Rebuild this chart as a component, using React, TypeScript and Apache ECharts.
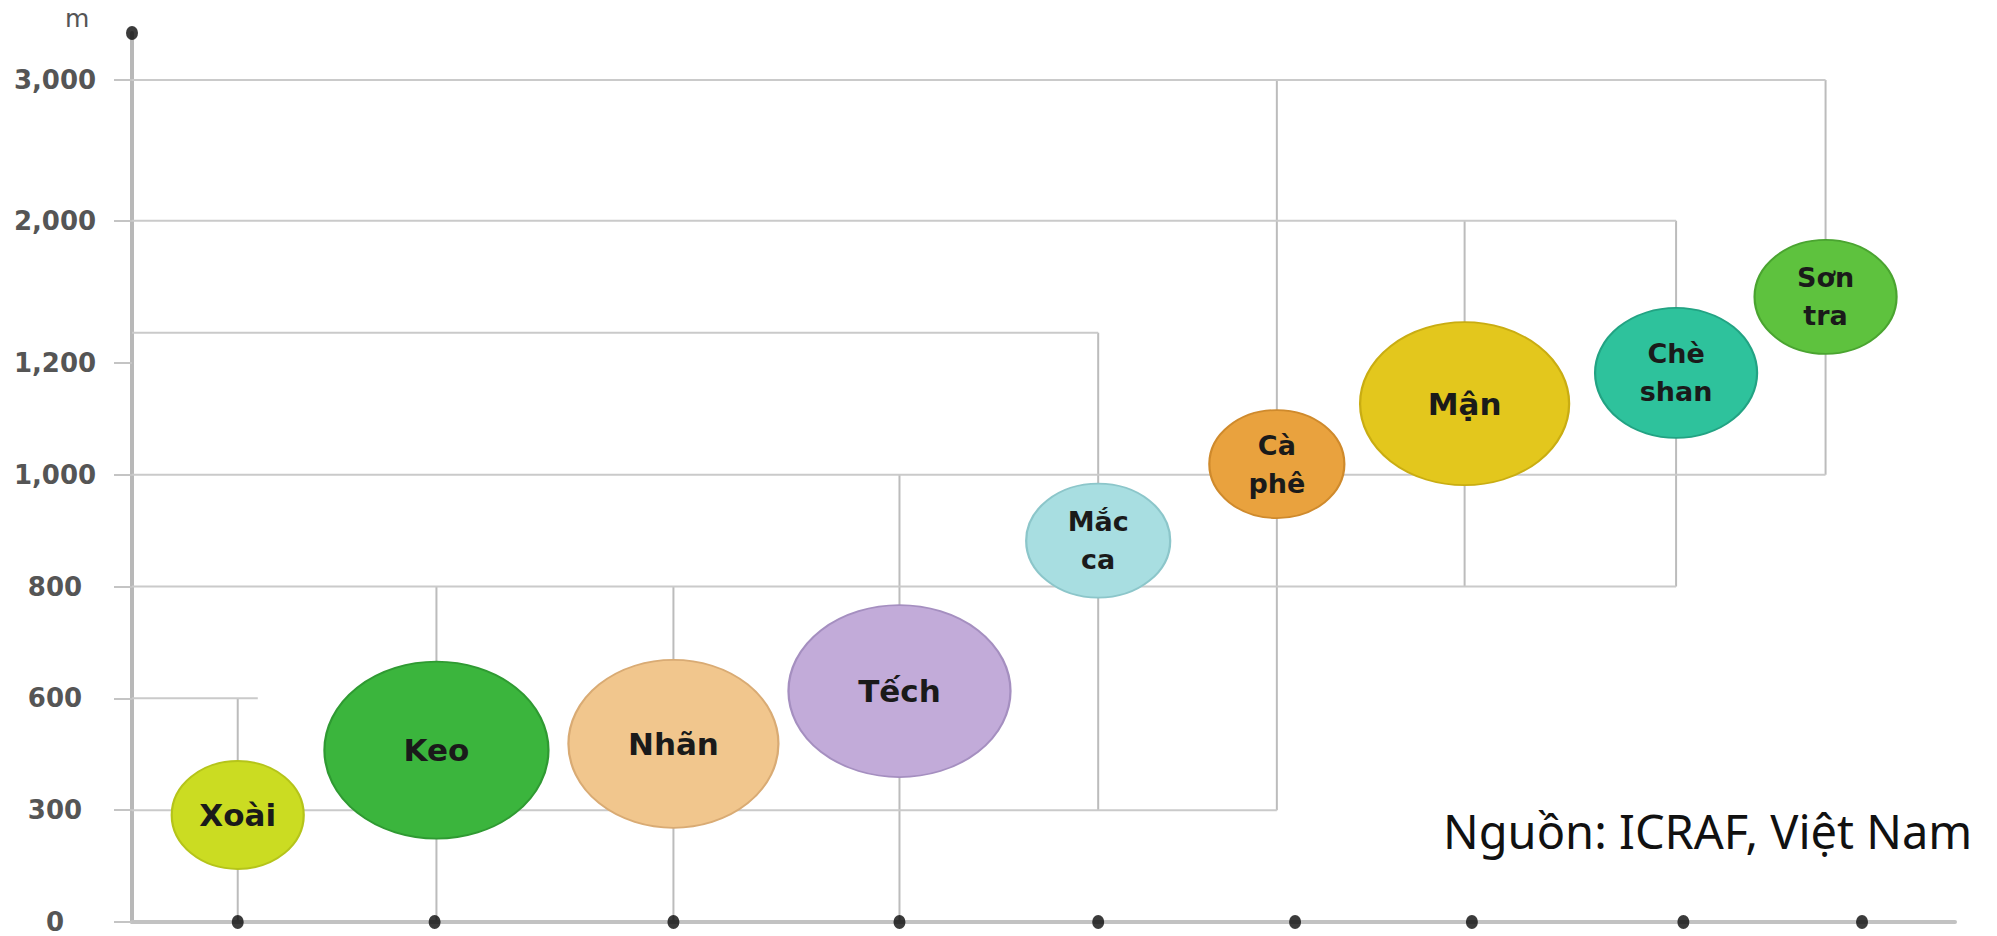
import React, { useEffect, useRef } from "react";
import * as echarts from "echarts";

// ---- data ----
const species = ["Xoài", "Keo", "Nhãn", "Tếch", "Mắc ca", "Cà phê", "Mận", "Chè shan", "Sơn tra"];
const bubbleLabels = ["Xoài", "Keo", "Nhãn", "Tếch", "Mắc\nca", "Cà\nphê", "Mận", "Chè\nshan", "Sơn\ntra"];
// horizontal position of each species column (0–100 along the x axis)
const columnX = [5.8, 16.7, 29.7, 42.1, 53.0, 62.8, 73.1, 84.7, 92.9];
// positions of the black dots on the x axis
const dotX = [5.8, 16.6, 29.7, 42.1, 53.0, 63.8, 73.5, 85.1, 94.9];
// altitude range (m) of each species
const minAlt = [0, 0, 0, 0, 300, 300, 800, 800, 1000];
const maxAlt = [600, 800, 800, 1000, 1370, 3000, 2000, 2000, 3000];
// altitude (m) of each bubble centre
const bubbleAlt = [287, 461, 478, 613, 882, 1019, 1127, 1182, 1572];
// bubble sizes [width, height] px
const bubbleW = [132, 224, 210, 222, 144, 135, 209, 162, 142];
const bubbleH = [108, 177, 168, 172, 114, 108, 163, 130, 114];
const bubbleColors = ["#cbdc22", "#3bb53d", "#f1c68d", "#c2abd9", "#a8dee1", "#e9a23e", "#e3c71d", "#2ec29c", "#5ec23e"];
const bubbleBorders = ["#b5c41a", "#2f9a32", "#d9ab74", "#a58fc0", "#8cc6ca", "#cf8a2c", "#c9ad12", "#22a383", "#4aa430"];

// horizontal bracket lines: altitude and x-extent
const hLineAlt = [600, 800, 1000, 1370, 2000, 3000, 300];
const hLineFrom = [0, 0, 0, 0, 0, 0, 0];
const hLineTo = [6.9, 84.7, 92.9, 53.0, 84.7, 92.9, 62.8];

// y axis ticks (non-linear scale)
const yTickValues = [0, 300, 600, 800, 1000, 1200, 2000, 3000];
const yTickLabels = ["0", "300", "600", "800", "1,000", "1,200", "2,000", "3,000"];
const yTickPos = [0, 1, 2, 3, 4, 5, 6.27, 7.53];
const yMax = 7.95;

function toPos(v: number): number {
  for (let i = 0; i < yTickValues.length - 1; i++) {
    const a = yTickValues[i];
    const b = yTickValues[i + 1];
    if (v <= b) {
      return yTickPos[i] + ((v - a) / (b - a)) * (yTickPos[i + 1] - yTickPos[i]);
    }
  }
  const n = yTickValues.length - 1;
  return yTickPos[n] + ((v - yTickValues[n]) / (yTickValues[n] - yTickValues[n - 1])) * (yTickPos[n] - yTickPos[n - 1]);
}

const ELLIPSE = "path://M0 50A50 50 0 1 1 100 50A50 50 0 1 1 0 50Z";

export default function App() {
  const ref = useRef<HTMLDivElement>(null);
  useEffect(() => {
    if (!ref.current) return;
    const chart = echarts.init(ref.current, undefined, { renderer: "svg" });

    const lineSeries: any[] = [];
    // vertical range lines
    species.forEach((s, i) => {
      lineSeries.push({
        type: "line",
        name: s + " range",
        data: [
          [columnX[i], toPos(minAlt[i])],
          [columnX[i], toPos(maxAlt[i])],
        ],
        symbol: "none",
        silent: true,
        z: 1,
        lineStyle: { color: "#bcbcbc", width: 2 },
      });
    });
    // horizontal lines
    hLineAlt.forEach((a, i) => {
      lineSeries.push({
        type: "line",
        data: [
          [hLineFrom[i], toPos(a)],
          [hLineTo[i], toPos(a)],
        ],
        symbol: "none",
        silent: true,
        z: 1,
        lineStyle: { color: "#cacaca", width: 2 },
      });
    });

    const option: any = {
      animation: false,
      backgroundColor: "#ffffff",
      grid: { left: 132, right: 42, top: 33, bottom: 14, containLabel: false, outerBoundsMode: "none" },
      xAxis: {
        type: "value",
        min: 0,
        max: 100,
        axisLine: { show: true, onZero: false, lineStyle: { color: "#c2c2c2", width: 4 } },
        axisTick: { show: false },
        axisLabel: { show: false },
        splitLine: { show: false },
      },
      yAxis: {
        type: "value",
        min: 0,
        max: yMax,
        axisLine: { show: true, onZero: false, lineStyle: { color: "#b8b8b8", width: 4 } },
        axisTick: { show: true, customValues: yTickPos, length: 18, lineStyle: { color: "#c4c4c4", width: 2 } },
        axisLabel: {
          show: true,
          customValues: yTickPos,
          margin: 77,
          align: "center",
          color: "#555555",
          fontFamily: "DejaVu Sans",
          fontWeight: "bold",
          fontSize: 26,
          formatter: (v: number) => {
            let best = 0;
            yTickPos.forEach((p, i) => {
              if (Math.abs(p - v) < Math.abs(yTickPos[best] - v)) best = i;
            });
            return yTickLabels[best];
          },
        },
        splitLine: { show: false },
      },
      graphic: [
        {
          type: "text",
          left: 65,
          top: 6,
          style: { text: "m", fontSize: 25, fontFamily: "DejaVu Sans", fill: "#555555" },
        },
        {
          type: "text",
          x: 1443,
          y: 831,
          style: {
            text: "Nguồn: ICRAF, Việt Nam",
            fontSize: 47,
            fontFamily: "Noto Sans",
            fill: "#111111",
            textAlign: "left",
            textVerticalAlign: "middle",
          },
        },
      ],
      series: [
        ...lineSeries,
        {
          type: "scatter",
          name: "bubbles",
          z: 3,
          data: species.map((s, i) => ({
            name: bubbleLabels[i],
            value: [columnX[i], toPos(bubbleAlt[i])],
            symbol: ELLIPSE,
            symbolSize: [bubbleW[i], bubbleH[i]],
            itemStyle: { color: bubbleColors[i], borderColor: bubbleBorders[i], borderWidth: 2, opacity: 1 },
            label: {
              show: true,
              position: "inside",
              formatter: "{b}",
              fontFamily: "DejaVu Sans",
              fontWeight: "bold",
              fontSize: bubbleLabels[i].includes("\n") ? 27 : 31,
              lineHeight: 38,
              color: "#1a1a1a",
            },
          })),
        },
        {
          type: "scatter",
          name: "dots",
          z: 4,
          symbol: ELLIPSE,
          symbolSize: [12, 14],
          itemStyle: { color: "#0a0a0a" },
          data: [...dotX.map((x) => [x, 0]), [0, yMax]],
        },
      ],
    };
    chart.setOption(option);
    return () => chart.dispose();
  }, []);
  return (
    <div
      ref={ref}
      style={{ position: "fixed", left: 0, top: 0, width: 1997, height: 936, background: "#fff" }}
    />
  );
}
